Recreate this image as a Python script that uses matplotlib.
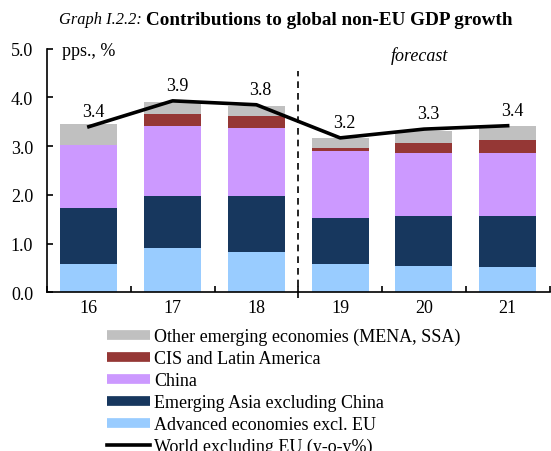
import matplotlib
matplotlib.use('Agg')
import matplotlib.pyplot as plt
from matplotlib.lines import Line2D

# Data
years = ['16', '17', '18', '19', '20', '21']
advanced = [0.59, 0.92, 0.82, 0.59, 0.55, 0.51]
em_asia = [1.14, 1.06, 1.16, 0.94, 1.02, 1.06]
china = [1.30, 1.43, 1.39, 1.37, 1.30, 1.30]
cis_latam = [0.0, 0.24, 0.24, 0.06, 0.20, 0.26]
other_em = [0.42, 0.26, 0.22, 0.21, 0.25, 0.28]
world = [3.40, 3.93, 3.85, 3.17, 3.35, 3.42]
world_labels = ['3.4', '3.9', '3.8', '3.2', '3.3', '3.4']

series = [
    ('Advanced economies excl. EU', advanced, '#99CCFF'),
    ('Emerging Asia excluding China', em_asia, '#17375E'),
    ('China', china, '#CC99FF'),
    ('CIS and Latin America', cis_latam, '#953735'),
    ('Other emerging economies (MENA, SSA)', other_em, '#C0C0C0'),
]

plt.rcParams['font.family'] = 'Liberation Serif'
plt.rcParams['font.size'] = 13

fig = plt.figure(figsize=(5.51, 4.52), dpi=100)
ax = fig.add_axes([0.0853, 0.351, 0.912, 0.539])

x = list(range(len(years)))
bottom = [0.0] * len(years)
for name, vals, col in series:
    ax.bar(x, vals, 0.68, bottom=bottom, color=col, edgecolor='none', zorder=2)
    bottom = [b + v for b, v in zip(bottom, vals)]

ax.plot(x, world, color='black', lw=2.6, zorder=3)
for xi, w, lab in zip(x, world, world_labels):
    ax.text(xi + 0.05, w + 0.32, lab, ha='center', va='center', fontsize=13)

# forecast separator
ax.plot([2.5, 2.5], [-0.12, 4.55], color='black', lw=1.2, ls=(0, (4, 3)),
        clip_on=False, zorder=4)
ax.text(3.95, 4.88, 'forecast', style='italic', ha='center', va='center', fontsize=13)
ax.text(0.03, 4.97, 'pps., %', ha='left', va='center', fontsize=13,
        transform=ax.get_yaxis_transform())

ax.set_xlim(-0.5, 5.5)
ax.set_ylim(0, 5)
ax.set_yticks([0, 1, 2, 3, 4, 5])
ax.set_yticklabels(['0.0', '1.0', '2.0', '3.0', '4.0', '5.0'])
ax.set_xticks(x)
ax.set_xticklabels(years)
ax.set_xticks([i + 0.5 for i in range(-1, 6)], minor=True)
ax.tick_params(axis='x', which='major', length=0, pad=5)
ax.tick_params(axis='x', which='minor', direction='in', length=4, width=1.2)
ax.tick_params(axis='y', direction='in', length=4, width=1.2, pad=10)
for s in ['top', 'right']:
    ax.spines[s].set_visible(False)
for s in ['left', 'bottom']:
    ax.spines[s].set_linewidth(1.2)

fig.text(0.265, 0.955, 'Graph I.2.2: ', style='italic', ha='right', va='center', fontsize=11.8)
fig.text(0.265, 0.955, 'Contributions to global non-EU GDP growth', weight='bold',
         ha='left', va='center', fontsize=13.8)

handles = [Line2D([], [], color=col, lw=7, solid_capstyle='butt') for _, _, col in series[::-1]]
handles.append(Line2D([], [], color='black', lw=2.6))
labels = [n for n, _, _ in series[::-1]] + ['World excluding EU (y-o-y%)']
fig.legend(handles, labels, loc='upper left', bbox_to_anchor=(0.194, 0.272),
           frameon=False, fontsize=13, handlelength=2.4, handletextpad=0.2,
           labelspacing=0.27, borderaxespad=0, borderpad=0)

fig.savefig('out.png', dpi=100)
